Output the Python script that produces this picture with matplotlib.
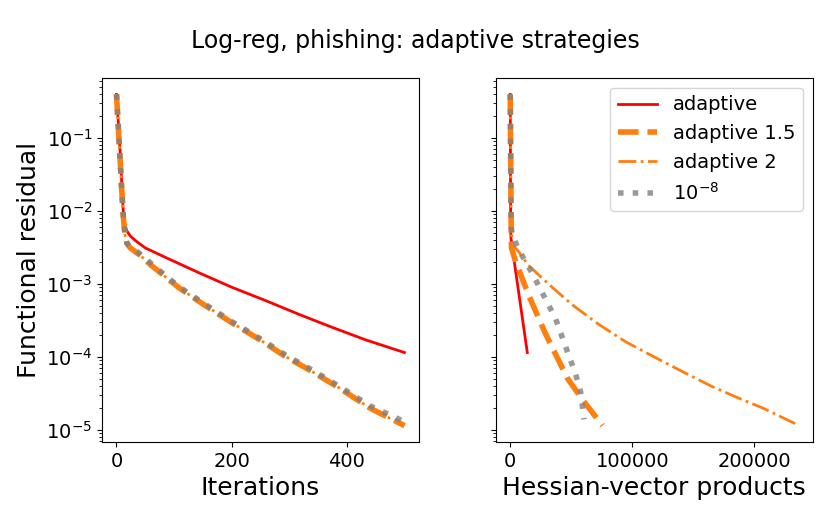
import matplotlib
matplotlib.use("Agg")
import matplotlib.pyplot as plt

# --- data ---
# left panel: functional residual vs iterations
it_adaptive = [0, 3, 6, 9, 12, 15, 18, 24, 33, 50, 85, 143, 200, 259, 316, 374, 432, 500]
res_adaptive = [0.39, 0.17, 0.07, 0.025, 0.009, 0.0062, 0.0053, 0.0045, 0.0039, 0.0031,
                0.0023, 0.00142, 9.0e-4, 5.9e-4, 3.85e-4, 2.55e-4, 1.72e-4, 1.15e-4]

it_other = [0, 3, 6, 9, 12, 15, 18, 24, 40, 60, 108, 150, 200, 250, 293, 340, 386, 440, 500]
res_adaptive15 = [0.39, 0.15, 0.055, 0.02, 0.008, 0.0045, 0.0036, 0.0031, 0.0025, 0.0018,
                  8.9e-4, 5.3e-4, 2.95e-4, 1.7e-4, 1.02e-4, 6.3e-5, 3.8e-5, 2.0e-5, 1.15e-5]
res_adaptive2 = [0.39, 0.15, 0.055, 0.02, 0.008, 0.0045, 0.0036, 0.0031, 0.0025, 0.0018,
                 8.9e-4, 5.3e-4, 2.95e-4, 1.7e-4, 1.02e-4, 6.3e-5, 3.8e-5, 2.0e-5, 1.15e-5]
res_1e8 = [0.39, 0.15, 0.055, 0.02, 0.008, 0.0045, 0.0036, 0.0032, 0.0026, 0.0019,
           9.2e-4, 5.5e-4, 3.05e-4, 1.77e-4, 1.07e-4, 6.6e-5, 4.0e-5, 2.15e-5, 1.3e-5]

# right panel: functional residual vs Hessian-vector products
hvp_adaptive = [0, 100, 200, 300, 400, 600, 3000, 6000, 9000, 12000, 14000]
hres_adaptive = [0.39, 0.15, 0.05, 0.015, 0.006, 0.0042, 0.0022, 9.8e-4, 4.4e-4, 1.96e-4, 1.15e-4]

hvp_adaptive15 = [0, 200, 400, 600, 800, 1000, 4100, 14800, 28800, 46900, 60000, 75700]
hres_adaptive15 = [0.39, 0.15, 0.05, 0.015, 0.006, 0.0031, 2.1e-3, 7.2e-4, 2.1e-4, 5.1e-5,
                   2.5e-5, 1.15e-5]

hvp_adaptive2 = [0, 200, 400, 600, 800, 1500, 6600, 14800, 34600, 52000, 72400, 95000,
                 119000, 142000, 166000, 188000, 207000, 236000]
hres_adaptive2 = [0.39, 0.15, 0.05, 0.015, 0.006, 3.5e-3, 2.8e-3, 1.8e-3, 8.9e-4, 5.0e-4,
                  2.8e-4, 1.6e-4, 9.8e-5, 6.2e-5, 3.9e-5, 2.7e-5, 2.0e-5, 1.17e-5]

hvp_1e8 = [0, 200, 400, 600, 800, 1500, 6600, 18000, 30500, 37000, 45300, 53500, 57600, 60500]
hres_1e8 = [0.39, 0.15, 0.05, 0.015, 0.006, 4.8e-3, 3.0e-3, 1.4e-3, 5.5e-4, 3.4e-4, 1.4e-4,
            5.9e-5, 3.4e-5, 1.4e-5]

ORANGE = "#ff7f0e"


def draw(ax, series):
    (x1, y1), (x2, y2), (x3, y3), (x4, y4) = series
    ax.plot(x1, y1, color="red", lw=2, label="adaptive")
    ax.plot(x2, y2, color=ORANGE, lw=4, ls="--", label="adaptive 1.5")
    ax.plot(x3, y3, color=ORANGE, lw=2, ls="-.", label="adaptive 2")
    ax.plot(x4, y4, color="gray", lw=4, ls=":", alpha=0.8, label=r"$10^{-8}$")
    ax.set_yscale("log")
    ax.tick_params(labelsize=14)


fig, (ax1, ax2) = plt.subplots(1, 2, sharey=True, figsize=(8.3, 5.19), dpi=100)
plt.subplots_adjust(left=0.123, right=0.979, bottom=0.148, top=0.85, wspace=0.243)

draw(ax1, [(it_adaptive, res_adaptive), (it_other, res_adaptive15),
           (it_other, res_adaptive2), (it_other, res_1e8)])
draw(ax2, [(hvp_adaptive, hres_adaptive), (hvp_adaptive15, hres_adaptive15),
           (hvp_adaptive2, hres_adaptive2), (hvp_1e8, hres_1e8)])

ax1.set_xlabel("Iterations", fontsize=18)
ax1.set_ylabel("Functional residual", fontsize=18)
ax2.set_xlabel("Hessian-vector products", fontsize=18)
ax2.legend(loc="upper right", fontsize=14)

fig.suptitle("Log-reg, phishing: adaptive strategies", fontsize=17, y=0.945)

plt.savefig("out.png")
